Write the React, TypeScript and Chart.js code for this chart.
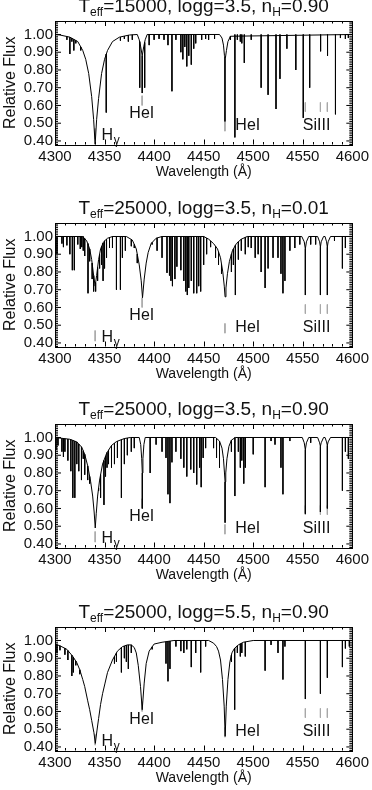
import React, { useEffect, useRef } from "react";
import { Chart, registerables } from "chart.js";

Chart.register(...registerables);

const FONT = "'Liberation Sans', Arial, Helvetica, sans-serif";

// Axes
const xMin = 4300;
const xMax = 4600;
const yMin = 0.38;
const yMax = 1.076;
const xTicks = [4300, 4350, 4400, 4450, 4500, 4550, 4600];
const yTicks = [0.4, 0.5, 0.6, 0.7, 0.8, 0.9, 1.0];

// Titles
const titleTeff = ["15000", "25000", "25000", "25000"];
const titleLogg = ["3.5", "3.5", "3.5", "5.5"];
const titleNH = ["0.90", "0.01", "0.90", "0.90"];

// Identification marks (grey ticks) and labels
const markWl = [4340.5, 4387.9, 4471.5, 4552.6, 4567.8, 4574.8];
const markTop = [0.47, 0.655, 0.51, 0.617, 0.617, 0.617];
const markBottom = [0.41, 0.6, 0.455, 0.565, 0.565, 0.565];
const labelText = ["H", "HeI", "HeI", "SiIII"];
const labelWl = [4347, 4375, 4482, 4550];
const labelFlux = [0.406, 0.528, 0.464, 0.464];

// ---------- Panel 1: Teff=15000, logg=3.5, nH=0.90 ----------
const p1ProfWl = [4300, 4305, 4315, 4323, 4328, 4331, 4334, 4337, 4339, 4340.5, 4342, 4344, 4347, 4350, 4353, 4358, 4365, 4375, 4383, 4385, 4386.5, 4388, 4389.5, 4391, 4393, 4466, 4468.5, 4470, 4471, 4472, 4473, 4474.5, 4477, 4600];
const p1ProfFlux = [1.0, 0.997, 0.985, 0.96, 0.91, 0.86, 0.78, 0.65, 0.52, 0.38, 0.52, 0.64, 0.78, 0.86, 0.91, 0.96, 0.985, 0.997, 1.0, 0.97, 0.93, 0.88, 0.93, 0.97, 1.0, 1.0, 0.98, 0.94, 0.88, 0.87, 0.91, 0.96, 0.99, 1.0];
const p1LineWl = [4312, 4315, 4317, 4319, 4321, 4326, 4351.7, 4366, 4370, 4374, 4378, 4385.5, 4388, 4390.5, 4395, 4400, 4405, 4410, 4414, 4418, 4422, 4427, 4429, 4431, 4433, 4435, 4437.5, 4440, 4442, 4448, 4452, 4455, 4461, 4471.5, 4477, 4481.5, 4484, 4487, 4488.5, 4491, 4498, 4508, 4515, 4523, 4527, 4534, 4543, 4550.5, 4557, 4568, 4575, 4583, 4588, 4593, 4596];
const p1LineTop = [0.989, 0.985, 0.98, 0.972, 0.966, 0.93, 0.89, 0.985, 0.991, 0.996, 0.998, 0.96, 0.88, 0.955, 1, 1, 1, 1, 1, 1, 1, 1, 1, 1, 1, 1, 1, 1, 1, 1, 1, 1, 1, 0.875, 0.99, 1, 1, 1, 1, 1, 1, 1, 1, 1, 1, 1, 1, 1, 1, 1, 1, 1, 1, 1, 1];
const p1LineMin = [0.97, 0.89, 0.96, 0.91, 0.95, 0.91, 0.56, 0.965, 0.975, 0.96, 0.97, 0.7, 0.67, 0.7, 0.94, 0.97, 0.975, 0.97, 0.94, 0.68, 0.97, 0.9, 0.86, 0.93, 0.82, 0.88, 0.83, 0.92, 0.95, 0.97, 0.975, 0.97, 0.975, 0.51, 0.97, 0.42, 0.97, 0.96, 0.95, 0.84, 0.97, 0.7, 0.66, 0.58, 0.75, 0.92, 0.8, 0.53, 0.7, 0.905, 0.88, 0.55, 0.98, 0.975, 0.98];

// ---------- Panel 2: Teff=25000, logg=3.5, nH=0.01 ----------
const p2ProfWl = [4300, 4328, 4332, 4335, 4337, 4339, 4340.5, 4342, 4344, 4346, 4349, 4353, 4358, 4372, 4378, 4382, 4385, 4387, 4388.3, 4390, 4392, 4394, 4397, 4402, 4408, 4450, 4455, 4460, 4464, 4467, 4469.3, 4470.8, 4471.6, 4472.5, 4474, 4476, 4479, 4483, 4488, 4494, 4549, 4551.5, 4552.6, 4553.7, 4556, 4565, 4567, 4567.8, 4568.6, 4571, 4572.5, 4574, 4574.8, 4575.6, 4578, 4600];
const p2ProfFlux = [1.0, 1.0, 0.975, 0.93, 0.87, 0.78, 0.72, 0.78, 0.87, 0.93, 0.97, 0.99, 1.0, 1.0, 0.98, 0.93, 0.84, 0.75, 0.655, 0.76, 0.85, 0.91, 0.96, 0.99, 1.0, 1.0, 0.985, 0.96, 0.93, 0.88, 0.8, 0.72, 0.66, 0.71, 0.79, 0.86, 0.92, 0.96, 0.985, 1.0, 1.0, 0.97, 0.93, 0.97, 1.0, 1.0, 0.97, 0.94, 0.97, 1.0, 1.0, 0.97, 0.94, 0.97, 1.0, 1.0];
const p2LineWl = [4302, 4307, 4308.5, 4312, 4315, 4317.5, 4319.5, 4323, 4325.5, 4327, 4328.5, 4330, 4333.3, 4335, 4337.5, 4339, 4341, 4343, 4345, 4347, 4348.5, 4350, 4352, 4355, 4358, 4362, 4366, 4368, 4371, 4377, 4380, 4383, 4398, 4403, 4408, 4413, 4415.5, 4417, 4418.5, 4421, 4423, 4427, 4430, 4432, 4433.5, 4435, 4437.5, 4440, 4443, 4445, 4447, 4450, 4453, 4457, 4462, 4465, 4468, 4478, 4480, 4482, 4485, 4488, 4492, 4495, 4498, 4502, 4505, 4508, 4512, 4515, 4520, 4525, 4528, 4530, 4532, 4537, 4542, 4547, 4552.6, 4558, 4563, 4567.8, 4574.8, 4582, 4590, 4593];
const p2LineTop = [1, 1, 1, 1, 1, 1, 1, 1, 1, 1, 1, 0.988, 0.96, 0.93, 0.85, 0.78, 0.74, 0.825, 0.9, 0.943, 0.963, 0.975, 0.985, 0.994, 1, 1, 1, 1, 1, 0.983, 0.955, 0.9, 0.966, 0.992, 1, 1, 1, 1, 1, 1, 1, 1, 1, 1, 1, 1, 1, 1, 1, 1, 1, 1, 0.991, 0.975, 0.945, 0.913, 0.845, 0.9, 0.93, 0.95, 0.97, 0.985, 0.995, 1, 1, 1, 1, 1, 1, 1, 1, 1, 1, 1, 1, 1, 1, 1, 0.93, 1, 1, 0.94, 0.94, 1, 1, 1];
const p2LineMin = [0.9, 0.96, 0.94, 0.95, 0.9, 0.81, 0.81, 0.955, 0.93, 0.94, 0.92, 0.89, 0.68, 0.86, 0.76, 0.69, 0.69, 0.75, 0.82, 0.84, 0.75, 0.82, 0.88, 0.935, 0.935, 0.7, 0.7, 0.88, 0.92, 0.945, 0.935, 0.85, 0.955, 0.92, 0.88, 0.795, 0.78, 0.75, 0.72, 0.76, 0.83, 0.81, 0.75, 0.69, 0.67, 0.71, 0.75, 0.68, 0.68, 0.72, 0.69, 0.84, 0.9, 0.94, 0.88, 0.84, 0.79, 0.8, 0.84, 0.67, 0.87, 0.92, 0.9, 0.94, 0.935, 0.88, 0.9, 0.8, 0.71, 0.82, 0.88, 0.88, 0.79, 0.68, 0.75, 0.92, 0.935, 0.955, 0.67, 0.955, 0.955, 0.67, 0.67, 0.975, 0.82, 0.935];

// ---------- Panel 3: Teff=25000, logg=3.5, nH=0.90 ----------
const p3ProfWl = [4300, 4315, 4322, 4327, 4330, 4333, 4336, 4338, 4339.5, 4340.6, 4341.6, 4343, 4345, 4348, 4352, 4357, 4362, 4370, 4376, 4385, 4386.5, 4387.5, 4388.1, 4388.7, 4389.7, 4391, 4462, 4466, 4468.5, 4470, 4471, 4471.6, 4472.3, 4473.5, 4475.5, 4478, 4482, 4549.5, 4551.5, 4552.6, 4553.7, 4556, 4565, 4567, 4567.8, 4568.6, 4571, 4572.5, 4574, 4574.8, 4575.6, 4578, 4600];
const p3ProfFlux = [1.0, 0.99, 0.975, 0.945, 0.905, 0.84, 0.75, 0.67, 0.58, 0.49, 0.57, 0.67, 0.76, 0.85, 0.91, 0.955, 0.977, 0.994, 1.0, 1.0, 0.96, 0.88, 0.8, 0.88, 0.96, 1.0, 1.0, 0.98, 0.94, 0.88, 0.8, 0.75, 0.8, 0.88, 0.95, 0.985, 1.0, 1.0, 0.97, 0.93, 0.97, 1.0, 1.0, 0.97, 0.95, 0.97, 1.0, 1.0, 0.975, 0.955, 0.975, 1.0, 1.0];
const p3LineWl = [4301, 4303, 4307, 4308.5, 4310, 4313, 4316, 4318, 4320, 4322, 4324, 4326.7, 4328.5, 4330, 4333, 4335, 4344, 4346, 4349.4, 4351, 4352.5, 4354, 4357, 4360, 4363, 4367, 4370, 4373, 4377, 4380, 4388.1, 4396, 4402, 4408, 4412, 4414, 4416, 4418, 4422, 4427, 4430, 4433, 4437, 4440, 4443, 4446, 4447.5, 4449.5, 4452, 4460, 4463, 4466, 4471.6, 4478, 4481.5, 4485, 4487, 4488.5, 4490.5, 4492, 4500, 4512, 4518, 4522, 4528, 4530, 4537, 4552.6, 4558, 4567.8, 4574.8, 4590, 4593, 4596];
const p3LineTop = [0.999, 0.998, 0.995, 0.994, 0.993, 0.991, 0.988, 0.984, 0.979, 0.975, 0.963, 0.947, 0.925, 0.905, 0.84, 0.78, 0.715, 0.79, 0.87, 0.895, 0.915, 0.93, 0.955, 0.968, 0.979, 0.988, 0.994, 0.997, 1, 1, 0.8, 1, 1, 1, 1, 1, 1, 1, 1, 1, 1, 1, 1, 1, 1, 1, 1, 1, 1, 1, 0.995, 0.98, 0.75, 0.985, 1, 1, 1, 1, 1, 1, 1, 1, 1, 1, 1, 1, 1, 0.93, 1, 0.95, 0.955, 1, 1, 1];
const p3LineMin = [0.93, 0.955, 0.92, 0.89, 0.92, 0.87, 0.81, 0.66, 0.66, 0.85, 0.81, 0.76, 0.88, 0.79, 0.76, 0.74, 0.7, 0.66, 0.62, 0.78, 0.83, 0.85, 0.83, 0.85, 0.885, 0.66, 0.85, 0.9, 0.92, 0.94, 0.6, 0.8, 0.96, 0.92, 0.885, 0.68, 0.63, 0.86, 0.92, 0.88, 0.83, 0.78, 0.82, 0.8, 0.735, 0.83, 0.72, 0.885, 0.94, 0.94, 0.885, 0.83, 0.52, 0.92, 0.67, 0.92, 0.83, 0.87, 0.74, 0.83, 0.905, 0.72, 0.98, 0.96, 0.83, 0.68, 0.98, 0.57, 0.97, 0.58, 0.6, 0.7, 0.92, 0.88];

// ---------- Panel 4: Teff=25000, logg=5.5, nH=0.90 ----------
const p4ProfWl = [4300, 4305, 4312, 4318, 4322, 4325, 4328, 4330, 4333, 4335, 4337, 4339.3, 4340.7, 4342.3, 4344, 4346, 4348, 4350.5, 4353, 4358, 4363, 4368, 4373, 4377, 4380, 4382, 4384, 4386.3, 4388, 4390, 4392, 4395, 4400, 4408, 4420, 4455, 4460, 4463, 4465, 4467, 4469, 4470.7, 4471.7, 4472.8, 4474.5, 4476.5, 4478.5, 4481, 4485, 4490, 4500, 4600];
const p4ProfFlux = [0.98, 0.97, 0.95, 0.91, 0.875, 0.835, 0.78, 0.74, 0.66, 0.61, 0.55, 0.48, 0.42, 0.49, 0.56, 0.64, 0.7, 0.76, 0.82, 0.89, 0.94, 0.965, 0.975, 0.975, 0.96, 0.93, 0.86, 0.74, 0.61, 0.76, 0.87, 0.94, 0.98, 0.99, 1.0, 1.0, 0.985, 0.966, 0.94, 0.89, 0.78, 0.63, 0.46, 0.63, 0.78, 0.88, 0.93, 0.955, 0.975, 0.99, 1.0, 1.0];
const p4LineWl = [4302, 4305, 4310, 4313, 4317, 4318.5, 4321, 4325, 4360, 4362, 4367, 4370, 4372, 4374, 4377, 4398, 4412, 4414, 4416, 4422, 4427, 4430, 4433, 4437.5, 4442, 4447, 4452, 4478, 4481.3, 4484, 4487, 4488.5, 4492, 4512, 4518, 4525, 4530, 4532, 4552.6, 4567.8, 4574.8, 4590, 4593, 4597];
const p4LineTop = [0.976, 0.97, 0.956, 0.943, 0.917, 0.906, 0.884, 0.835, 0.91, 0.93, 0.96, 0.969, 0.973, 0.975, 0.975, 0.964, 0.993, 0.995, 0.997, 1, 1, 1, 1, 1, 1, 1, 1, 0.918, 0.957, 0.97, 0.981, 0.985, 0.992, 1, 1, 1, 1, 1, 1, 1, 1, 1, 1, 1];
const p4LineMin = [0.93, 0.945, 0.92, 0.89, 0.8, 0.82, 0.86, 0.81, 0.87, 0.88, 0.82, 0.9, 0.88, 0.84, 0.93, 0.95, 0.87, 0.77, 0.84, 0.966, 0.94, 0.93, 0.95, 0.85, 0.93, 0.82, 0.966, 0.88, 0.61, 0.93, 0.91, 0.93, 0.91, 0.83, 0.975, 0.93, 0.78, 0.966, 0.67, 0.7, 0.79, 0.85, 0.955, 0.966];

const panels = [
  { profWl: p1ProfWl, profFlux: p1ProfFlux, lineWl: p1LineWl, lineTop: p1LineTop, lineMin: p1LineMin },
  { profWl: p2ProfWl, profFlux: p2ProfFlux, lineWl: p2LineWl, lineTop: p2LineTop, lineMin: p2LineMin },
  { profWl: p3ProfWl, profFlux: p3ProfFlux, lineWl: p3LineWl, lineTop: p3LineTop, lineMin: p3LineMin },
  { profWl: p4ProfWl, profFlux: p4ProfFlux, lineWl: p4LineWl, lineTop: p4LineTop, lineMin: p4LineMin },
];

const panelTops = [-3, 199, 400, 603];
const CANVAS_W = 372;
const CANVAS_H = 202;

function pairs(xs: number[], ys: number[]) {
  return xs.map((x, i) => ({ x, y: ys[i] }));
}

function segments(xs: number[], tops: number[], bots: number[]) {
  const out: { x: number; y: number | null }[] = [];
  for (let i = 0; i < xs.length; i++) {
    out.push({ x: xs[i], y: tops[i] }, { x: xs[i], y: bots[i] }, { x: xs[i], y: null });
  }
  return out;
}

const decorPlugin = {
  id: "decor",
  afterDatasetsDraw(chart: any, _args: any, opts: any) {
    const ctx = chart.ctx;
    const { left, right, top, bottom } = chart.chartArea;
    const xs = chart.scales.x;
    const ys = chart.scales.y;

    // labels
    ctx.save();
    ctx.fillStyle = "#111";
    ctx.textBaseline = "alphabetic";
    ctx.textAlign = "left";
    for (let i = 0; i < labelText.length; i++) {
      const px = xs.getPixelForValue(labelWl[i]);
      const py = ys.getPixelForValue(labelFlux[i]);
      ctx.font = `16px ${FONT}`;
      ctx.fillText(labelText[i], px, py);
      if (i === 0) {
        const w = ctx.measureText(labelText[i]).width;
        ctx.font = `12px ${FONT}`;
        ctx.fillText("γ", px + w + 0.5, py + 4);
      }
    }
    ctx.restore();

    // frame
    ctx.save();
    ctx.strokeStyle = "#000";
    ctx.lineWidth = 1;
    ctx.strokeRect(Math.round(left) + 0.5, Math.round(top) + 0.5, Math.round(right - left), Math.round(bottom - top));

    // x ticks (minor every 10, major every 50)
    ctx.beginPath();
    for (let v = xMin; v <= xMax; v += 10) {
      const px = Math.round(xs.getPixelForValue(v)) + 0.5;
      const len = v % 50 === 0 ? 5 : 2.5;
      ctx.moveTo(px, bottom);
      ctx.lineTo(px, bottom - len);
      ctx.moveTo(px, top);
      ctx.lineTo(px, top + len);
    }
    // y ticks (minor every 0.01, major every 0.1)
    for (let k = 38; k <= 107; k++) {
      const py = ys.getPixelForValue(k / 100);
      const len = k % 10 === 0 ? 6 : 3;
      ctx.moveTo(left, py);
      ctx.lineTo(left + len, py);
      ctx.moveTo(right, py);
      ctx.lineTo(right - len, py);
    }
    ctx.stroke();
    ctx.restore();

    // title
    ctx.save();
    const parts: [string, boolean][] = [
      ["T", false],
      ["eff", true],
      [`=${opts.teff}, logg=${opts.logg}, n`, false],
      ["H", true],
      [`=${opts.nh}`, false],
    ];
    const mainFont = `19px ${FONT}`;
    const subFont = `12px ${FONT}`;
    let total = 0;
    for (const [t, sub] of parts) {
      ctx.font = sub ? subFont : mainFont;
      total += ctx.measureText(t).width;
    }
    let x = (left + right) / 2 - total / 2;
    const base = 14.5;
    ctx.fillStyle = "#111";
    ctx.textBaseline = "alphabetic";
    ctx.textAlign = "left";
    for (const [t, sub] of parts) {
      ctx.font = sub ? subFont : mainFont;
      ctx.fillText(t, x, sub ? base + 4 : base);
      x += ctx.measureText(t).width;
    }
    ctx.restore();
  },
};

function Panel({ index }: { index: number }) {
  const ref = useRef<HTMLCanvasElement | null>(null);
  useEffect(() => {
    const p = panels[index];
    const chart = new Chart(ref.current as HTMLCanvasElement, {
      type: "line",
      data: {
        datasets: [
          {
            data: pairs(p.profWl, p.profFlux),
            borderColor: "#000",
            borderWidth: 1,
            pointRadius: 0,
            tension: 0,
            fill: false,
          },
          {
            data: segments(p.lineWl, p.lineTop, p.lineMin),
            borderColor: "#000",
            borderWidth: 1,
            pointRadius: 0,
            spanGaps: false,
            fill: false,
          },
          {
            data: segments(markWl, markTop, markBottom),
            borderColor: "#a8a8a8",
            borderWidth: 1,
            pointRadius: 0,
            spanGaps: false,
            fill: false,
          },
        ],
      } as any,
      options: {
        animation: false,
        responsive: false,
        devicePixelRatio: 1,
        layout: { padding: { top: 24, right: 17, left: 0, bottom: 0 } },
        plugins: {
          legend: { display: false },
          tooltip: { enabled: false },
          decor: { teff: titleTeff[index], logg: titleLogg[index], nh: titleNH[index] },
        } as any,
        scales: {
          x: {
            type: "linear",
            min: xMin,
            max: xMax,
            afterBuildTicks: (s: any) => {
              s.ticks = xTicks.map((v) => ({ value: v }));
            },
            afterFit: (s: any) => {
              s.height = 54.5;
            },
            ticks: {
              font: { family: FONT, size: 15 },
              color: "#111",
              padding: 3,
              maxRotation: 0,
              autoSkip: false,
              callback: (v: any) => String(v),
            },
            grid: { display: false, drawTicks: false },
            border: { display: false },
            title: {
              display: true,
              text: "Wavelength (Å)",
              font: { family: FONT, size: 14 },
              color: "#111",
              padding: { top: 0, bottom: 18 },
            },
          },
          y: {
            type: "linear",
            min: yMin,
            max: yMax,
            afterBuildTicks: (s: any) => {
              s.ticks = yTicks.map((v) => ({ value: v }));
            },
            afterFit: (s: any) => {
              s.width = 55;
            },
            ticks: {
              font: { family: FONT, size: 15 },
              color: "#111",
              padding: 2,
              autoSkip: false,
              callback: (v: any) => Number(v).toFixed(2),
            },
            grid: { display: false, drawTicks: false },
            border: { display: false },
            title: {
              display: true,
              text: "Relative Flux",
              font: { family: FONT, size: 16 },
              color: "#111",
              padding: { top: 1, bottom: 0 },
            },
          },
        },
      } as any,
      plugins: [decorPlugin],
    });
    return () => chart.destroy();
  }, [index]);

  return (
    <canvas
      ref={ref}
      width={CANVAS_W}
      height={CANVAS_H}
      style={{ position: "absolute", left: 0, top: panelTops[index], width: CANVAS_W, height: CANVAS_H }}
    />
  );
}

export default function App() {
  return (
    <div
      style={{
        position: "absolute",
        left: 0,
        top: 0,
        width: CANVAS_W,
        height: 790,
        overflow: "hidden",
        background: "#fff",
      }}
    >
      {[0, 1, 2, 3].map((i) => (
        <Panel key={i} index={i} />
      ))}
    </div>
  );
}
